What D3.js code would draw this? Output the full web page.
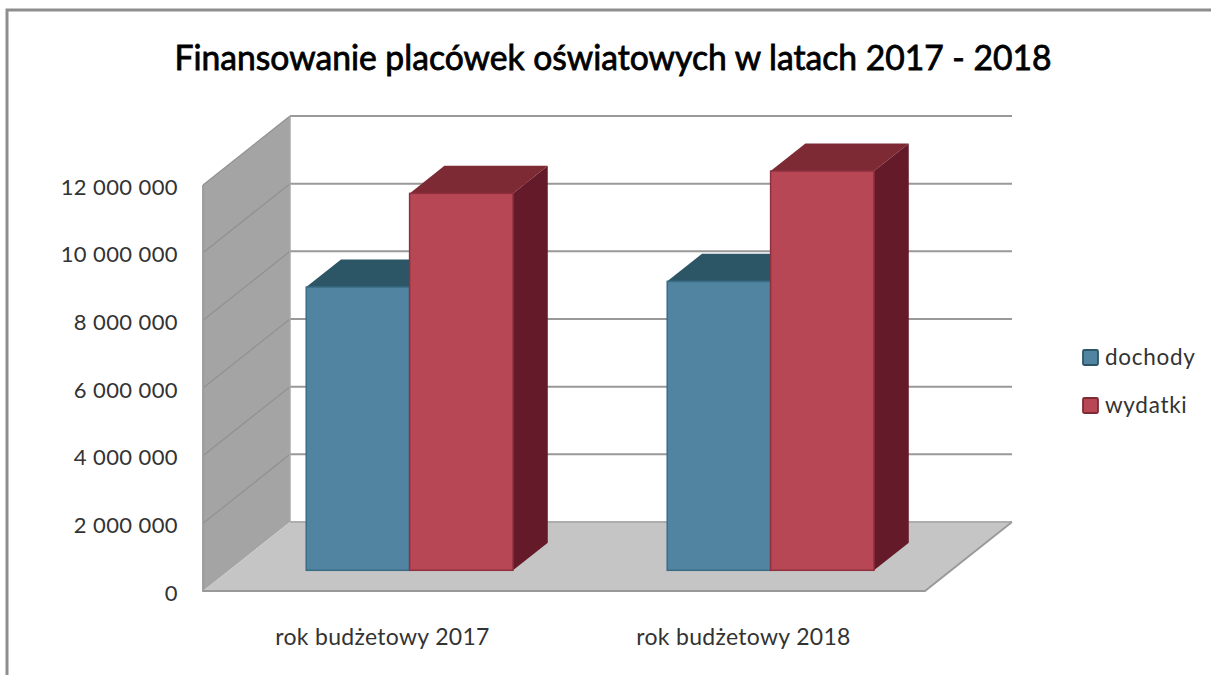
<!DOCTYPE html>
<html>
<head>
<meta charset="utf-8">
<script src="https://cdn.jsdelivr.net/npm/d3@7"></script>
<style>
  html, body { margin: 0; background: #fff; }
  text { font-family: Lato, "Open Sans", sans-serif; fill: #333; }
</style>
</head>
<body>
<div id="container"></div>
<script>
/* DATA */
const categories = ["rok budżetowy 2017", "rok budżetowy 2018"];
const seriesNames = ["dochody", "wydatki"];
const dochody = [8370000, 8540000];
const wydatki = [11140000, 11800000];
const yTicks = [0, 2000000, 4000000, 6000000, 8000000, 10000000, 12000000];
const title = "Finansowanie placówek oświatowych w latach 2017 - 2018";

/* COLOURS */
const colors = {
  dochody: { front: "#5084a0", top: "#2c5566", side: "#2c5566", line: "#3a6c86" },
  wydatki: { front: "#b84755", top: "#7d2a35", side: "#641a29", line: "#8f3040" }
};

/* CONSTANTS, the 3d box is a front plane shifted back by depthX / depthY */
const width = 1211, height = 675;
const depthX = 87, depthY = -69;

const svg = d3.select("#container").append("svg")
  .attr("width", width)
  .attr("height", height)
  .style("display", "block");

/* SCALES */
const yScale = d3.scaleLinear().domain([0, 12000000]).range([591, 185]);
const xScale = d3.scaleBand().domain(categories).range([203, 925]);
const xInner = d3.scaleBand().domain(seriesNames)
  .range([0, xScale.bandwidth()])
  .paddingInner(0).paddingOuter(0.746);

// depth 0 is the front edge of the floor, 1 is the back wall
const project = (x, y, d) => [x + depthX * d, y + depthY * d];
const line = pts => "M" + pts.join("L") + "Z";

// outer frame, only the top and left edges show in the picture
svg.append("path")
  .attr("d", "M7,675V10H1211")
  .attr("fill", "none")
  .attr("stroke", "#8e8e8e")
  .attr("stroke-width", 3);

svg.append("text")
  .text(title)
  .attr("x", 613).attr("y", 70)
  .attr("text-anchor", "middle")
  .attr("font-size", 34)
  .attr("font-weight", 400)
  .attr("textLength", 877)
  .attr("lengthAdjust", "spacingAndGlyphs")
  .style("fill", "#000")
  .style("stroke", "#000")
  .style("stroke-width", 0.8);

/* WALL AND FLOOR */
const x0 = xScale.range()[0], x1 = xScale.range()[1];
const y0 = yScale(0), yMax = yScale(12000000);

svg.append("path")
  .attr("d", line([[x0, yMax], project(x0, yMax, 1), project(x0, y0, 1), [x0, y0]]))
  .attr("fill", "#a4a4a4");

svg.append("path")
  .attr("d", line([[x0, y0], project(x0, y0, 1), project(x1, y0, 1), [x1, y0]]))
  .attr("fill", "#c5c5c5");

// grid lines along the side wall, thin
svg.selectAll("path.wallGrid")
  .data(yTicks.slice(1))
  .join("path")
  .attr("class", "wallGrid")
  .attr("d", d => "M" + [[x0, yScale(d)], project(x0, yScale(d), 1)].join("L"))
  .attr("stroke", "#919191")
  .attr("stroke-width", 1.2);

// and along the back wall
svg.selectAll("path.grid")
  .data(yTicks)
  .join("path")
  .attr("class", "grid")
  .attr("d", d => "M" + [project(x0, yScale(d), 1), project(x1, yScale(d), 1)].join("L"))
  .attr("stroke", d => d === 0 ? "#adadad" : "#999")
  .attr("stroke-width", 2);

svg.append("path")
  .attr("d", "M" + [project(x0, yMax, 1), project(x0, y0, 1)].join("L"))
  .attr("stroke", "#a8a8a8").attr("stroke-width", 1.5);
svg.append("path")
  .attr("d", "M" + [[x0, yMax], [x0, y0], [x1, y0], project(x1, y0, 1)].join("L"))
  .attr("fill", "none").attr("stroke", "#999").attr("stroke-width", 1.8);

/* BARS */
const barNear = 0.3, barFar = 0.7;
const bars = [];
categories.forEach((c, i) => {
  bars.push({ cat: c, name: "dochody", value: dochody[i] });
  bars.push({ cat: c, name: "wydatki", value: wydatki[i] });
});

const barGroups = svg.selectAll("g.bar")
  .data(bars)
  .join("g")
  .attr("class", "bar");

barGroups.each(function (d) {
  const g = d3.select(this);
  const left = xScale(d.cat) + xInner(d.name);
  const right = left + xInner.bandwidth();
  const top = yScale(d.value);
  const c = colors[d.name];

  // top face
  g.append("path")
    .attr("d", line([project(left, top, barNear), project(left, top, barFar), project(right, top, barFar), project(right, top, barNear)]))
    .attr("fill", c.top);
  // side face
  g.append("path")
    .attr("d", line([project(right, top, barNear), project(right, top, barFar), project(right, y0, barFar), project(right, y0, barNear)]))
    .attr("fill", c.side);
  // front face
  const a = project(left, top, barNear), b = project(right, y0, barNear);
  g.append("rect")
    .attr("x", a[0]).attr("y", a[1])
    .attr("width", b[0] - a[0]).attr("height", b[1] - a[1])
    .attr("fill", c.front)
    .attr("stroke", c.line)
    .attr("stroke-width", 1.5);
});

/* AXES */
const spaced = d3.formatLocale({ thousands: " ", grouping: [3], decimal: ",", currency: ["", ""] }).format(",");

const yAxisGroup = svg.append("g")
  .attr("transform", "translate(178, 2)")
  .call(d3.axisLeft(yScale).tickValues(yTicks).tickSize(0).tickPadding(0).tickFormat(spaced));
yAxisGroup.select(".domain").remove();
yAxisGroup.selectAll("text")
  .attr("font-size", 22)
  .style("letter-spacing", "0.4px");

const xAxisGroup = svg.append("g")
  .attr("transform", "translate(-1, 622)")
  .call(d3.axisBottom(xScale).tickSize(0).tickPadding(0));
xAxisGroup.select(".domain").remove();
xAxisGroup.selectAll("text")
  .attr("font-size", 23)
  .attr("dy", "1em")
  .style("letter-spacing", "0.3px");

/* LEGEND */
const legendY = d3.scalePoint().domain(seriesNames).range([358, 406]);
const legend = svg.selectAll("g.legend")
  .data(seriesNames)
  .join("g")
  .attr("class", "legend")
  .attr("transform", d => `translate(1083, ${legendY(d)})`);

legend.append("rect")
  .attr("x", 0).attr("y", -8)
  .attr("width", 15).attr("height", 15)
  .attr("rx", 1.5)
  .attr("fill", d => colors[d].front)
  .attr("stroke", d => d === "dochody" ? "#2c5566" : "#7d2a35")
  .attr("stroke-width", 1.8);

legend.append("text")
  .text(d => d)
  .attr("x", 22).attr("y", 0)
  .attr("dy", "0.33em")
  .attr("font-size", 22.5)
  .style("letter-spacing", "0.7px");
</script>
</body>
</html>
